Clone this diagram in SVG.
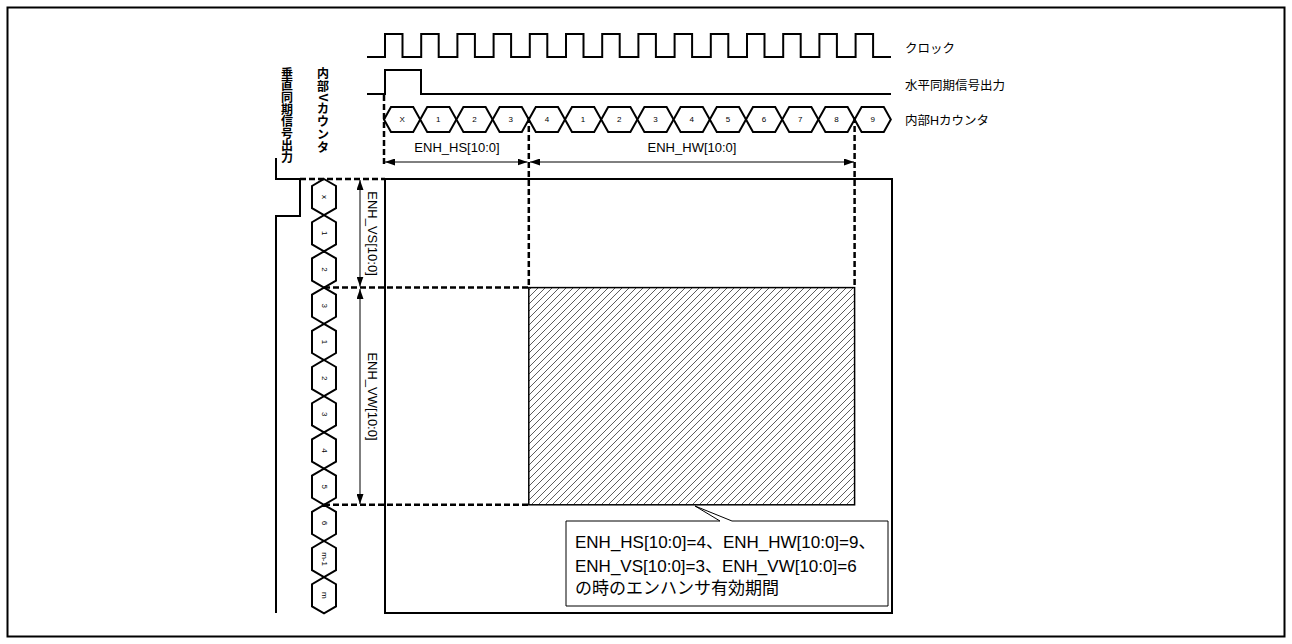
<svg xmlns="http://www.w3.org/2000/svg" width="1292" height="644" viewBox="0 0 1292 644">
<style>
.sig{fill:none;stroke:#000;stroke-width:2}
.hex{fill:#fff;stroke:#000;stroke-width:2;stroke-linejoin:miter}
.num{font-family:"Liberation Sans",Arial,sans-serif;font-size:8px;fill:#000;text-anchor:middle;dominant-baseline:central}
.lbl{font-family:"Liberation Sans","Noto Sans CJK JP",sans-serif;font-size:12.5px;fill:#000}
.vc{font-family:"Liberation Sans","Noto Sans CJK JP",sans-serif;font-size:12px;fill:#000;text-anchor:middle;font-weight:bold}
.dim{font-family:"Liberation Sans",Arial,sans-serif;font-size:13px;fill:#000;text-anchor:middle}
.dash{fill:none;stroke:#000;stroke-width:2.5;stroke-dasharray:6 3}
.arr{fill:none;stroke:#000;stroke-width:1;marker-start:url(#ah);marker-end:url(#ah)}
.call{font-family:"Liberation Sans","Noto Sans CJK JP",sans-serif;font-size:17px;fill:#000}
</style>
<defs>
<marker id="ah" viewBox="0 0 10 7" refX="10" refY="3.5" markerWidth="10" markerHeight="7" markerUnits="userSpaceOnUse" orient="auto-start-reverse">
<path d="M0,0 L10,3.5 L0,7 z" fill="#000"/>
</marker>
<pattern id="hatch" patternUnits="userSpaceOnUse" width="7" height="7">
<path d="M-1,8 L8,-1 M-1,1 L1,-1 M6,8 L8,6" stroke="#333" stroke-width="0.8"/>
</pattern>
</defs>
<rect id="outer-frame" x="7.5" y="7.5" width="1277" height="629" fill="#fff" stroke="#000" stroke-width="2"/>

<g id="clock">
<path class="sig" d="M367,57 H385 V34 H402.5 V57 H421.2 V34 H438.7 V57 H457.4 V34 H474.9 V57 H493.6 V34 H511.1 V57 H529.8 V34 H547.3 V57 H566 V34 H583.5 V57 H602.2 V34 H619.7 V57 H638.4 V34 H655.9 V57 H674.6 V34 H692.1 V57 H710.8 V34 H728.3 V57 H747 V34 H764.5 V57 H783.2 V34 H800.7 V57 H819.4 V34 H836.9 V57 H855.6 V34 H873.1 V57 H891"/>
<text class="lbl" x="905" y="52.5">クロック</text>
</g>

<g id="hsync">
<path class="sig" d="M367,94 H385 V70 H421 V94 H891"/>
<text class="lbl" x="905" y="89.5">水平同期信号出力</text>
</g>

<g id="hcounter">
<polygon class="hex" points="384,119.5 391,107 413.2,107 420.2,119.5 413.2,132 391,132"/>
<polygon class="hex" points="420.2,119.5 427.2,107 449.4,107 456.4,119.5 449.4,132 427.2,132"/>
<polygon class="hex" points="456.4,119.5 463.4,107 485.6,107 492.6,119.5 485.6,132 463.4,132"/>
<polygon class="hex" points="492.6,119.5 499.6,107 521.8,107 528.8,119.5 521.8,132 499.6,132"/>
<polygon class="hex" points="528.8,119.5 535.8,107 558,107 565,119.5 558,132 535.8,132"/>
<polygon class="hex" points="565,119.5 572,107 594.2,107 601.2,119.5 594.2,132 572,132"/>
<polygon class="hex" points="601.2,119.5 608.2,107 630.4,107 637.4,119.5 630.4,132 608.2,132"/>
<polygon class="hex" points="637.4,119.5 644.4,107 666.6,107 673.6,119.5 666.6,132 644.4,132"/>
<polygon class="hex" points="673.6,119.5 680.6,107 702.8,107 709.8,119.5 702.8,132 680.6,132"/>
<polygon class="hex" points="709.8,119.5 716.8,107 739,107 746,119.5 739,132 716.8,132"/>
<polygon class="hex" points="746,119.5 753,107 775.2,107 782.2,119.5 775.2,132 753,132"/>
<polygon class="hex" points="782.2,119.5 789.2,107 811.4,107 818.4,119.5 811.4,132 789.2,132"/>
<polygon class="hex" points="818.4,119.5 825.4,107 847.6,107 854.6,119.5 847.6,132 825.4,132"/>
<polygon class="hex" points="854.6,119.5 861.6,107 883.8,107 890.8,119.5 883.8,132 861.6,132"/>
<text class="num" x="402.1" y="119.5">X</text>
<text class="num" x="438.3" y="119.5">1</text>
<text class="num" x="474.5" y="119.5">2</text>
<text class="num" x="510.7" y="119.5">3</text>
<text class="num" x="546.9" y="119.5">4</text>
<text class="num" x="583.1" y="119.5">1</text>
<text class="num" x="619.3" y="119.5">2</text>
<text class="num" x="655.5" y="119.5">3</text>
<text class="num" x="691.7" y="119.5">4</text>
<text class="num" x="727.9" y="119.5">5</text>
<text class="num" x="764.1" y="119.5">6</text>
<text class="num" x="800.3" y="119.5">7</text>
<text class="num" x="836.5" y="119.5">8</text>
<text class="num" x="872.7" y="119.5">9</text>
<text class="lbl" x="905" y="124.5">内部Hカウンタ</text>
</g>

<g id="vsync">
<path class="sig" d="M276,158 V179 H300 V216 H276 V613"/>
<g class="vc">
<text x="287" y="77.5">垂</text>
<text x="287" y="89.5">直</text>
<text x="287" y="101.5">同</text>
<text x="287" y="113.5">期</text>
<text x="287" y="125.5">信</text>
<text x="287" y="137.5">号</text>
<text x="287" y="149.5">出</text>
<text x="287" y="161.5">力</text>
</g>
</g>

<g id="vcounter">
<polygon class="hex" points="324,179 336,186 336,208.2 324,215.2 312,208.2 312,186"/>
<polygon class="hex" points="324,215.2 336,222.2 336,244.4 324,251.4 312,244.4 312,222.2"/>
<polygon class="hex" points="324,251.4 336,258.4 336,280.6 324,287.6 312,280.6 312,258.4"/>
<polygon class="hex" points="324,287.6 336,294.6 336,316.8 324,323.8 312,316.8 312,294.6"/>
<polygon class="hex" points="324,323.8 336,330.8 336,353 324,360 312,353 312,330.8"/>
<polygon class="hex" points="324,360 336,367 336,389.2 324,396.2 312,389.2 312,367"/>
<polygon class="hex" points="324,396.2 336,403.2 336,425.4 324,432.4 312,425.4 312,403.2"/>
<polygon class="hex" points="324,432.4 336,439.4 336,461.6 324,468.6 312,461.6 312,439.4"/>
<polygon class="hex" points="324,468.6 336,475.6 336,497.8 324,504.8 312,497.8 312,475.6"/>
<polygon class="hex" points="324,504.8 336,511.8 336,534 324,541 312,534 312,511.8"/>
<polygon class="hex" points="324,541 336,548 336,570.2 324,577.2 312,570.2 312,548"/>
<polygon class="hex" points="324,577.2 336,584.2 336,606.4 324,613.4 312,606.4 312,584.2"/>
<text class="num" transform="translate(324,197.1) rotate(90)">x</text>
<text class="num" transform="translate(324,233.3) rotate(90)">1</text>
<text class="num" transform="translate(324,269.5) rotate(90)">2</text>
<text class="num" transform="translate(324,305.7) rotate(90)">3</text>
<text class="num" transform="translate(324,341.9) rotate(90)">1</text>
<text class="num" transform="translate(324,378.1) rotate(90)">2</text>
<text class="num" transform="translate(324,414.3) rotate(90)">3</text>
<text class="num" transform="translate(324,450.5) rotate(90)">4</text>
<text class="num" transform="translate(324,486.7) rotate(90)">5</text>
<text class="num" transform="translate(324,522.9) rotate(90)">6</text>
<text class="num" transform="translate(324,559.1) rotate(90)">m-1</text>
<text class="num" transform="translate(324,595.3) rotate(90)">m</text>
<g class="vc">
<text x="323" y="78">内</text>
<text x="323" y="91">部</text>
<text transform="translate(323,97.5) rotate(90)" dominant-baseline="central">V</text>
<text x="323" y="112.5">カ</text>
<text x="323" y="125.5">ウ</text>
<text x="323" y="138.5">ン</text>
<text x="323" y="151.5">タ</text>
</g>
</g>

<g id="screen">
<rect x="385" y="179" width="507" height="434" fill="none" stroke="#000" stroke-width="2"/>
</g>

<g id="active-area">
<rect x="528.8" y="287.6" width="325.8" height="217.2" fill="url(#hatch)" stroke="#000" stroke-width="1.5"/>
</g>

<g id="connectors">
<line class="dash" x1="384" y1="95" x2="384" y2="166"/>
<line class="dash" x1="528.8" y1="117" x2="528.8" y2="287.6"/>
<line class="dash" x1="854.6" y1="117" x2="854.6" y2="287.6"/>
<line class="dash" x1="300" y1="179" x2="385" y2="179"/>
<line class="dash" x1="324" y1="287.6" x2="528.8" y2="287.6"/>
<line class="dash" x1="324" y1="504.8" x2="528.8" y2="504.8"/>
<line class="arr" x1="385" y1="162" x2="527.5" y2="162"/>
<line class="arr" x1="530" y1="162" x2="854" y2="162"/>
<line class="arr" x1="360" y1="180" x2="360" y2="286.5"/>
<line class="arr" x1="360" y1="289" x2="360" y2="504"/>
<text class="dim" x="457" y="152">ENH_HS[10:0]</text>
<text class="dim" x="692" y="152">ENH_HW[10:0]</text>
<text class="dim" transform="translate(368,233.5) rotate(90)">ENH_VS[10:0]</text>
<text class="dim" transform="translate(368,396.5) rotate(90)">ENH_VW[10:0]</text>
</g>

<g id="callout">
<path d="M566,521 H720 L695,506 L732,521 H888 V606 H566 Z" fill="#fff" stroke="#000" stroke-width="1"/>
<text class="call" x="575" y="548">ENH_HS[10:0]=4、ENH_HW[10:0]=9、</text>
<text class="call" x="575" y="571.5">ENH_VS[10:0]=3、ENH_VW[10:0]=6</text>
<text class="call" x="575" y="594">の時のエンハンサ有効期間</text>
</g>
</svg>
